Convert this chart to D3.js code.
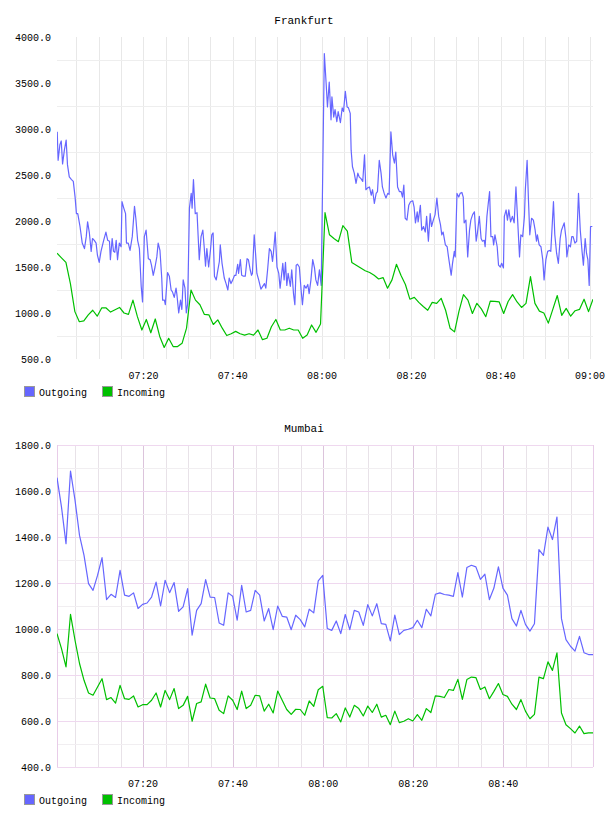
<!DOCTYPE html>
<html>
<head>
<meta charset="utf-8">
<script src="https://cdn.jsdelivr.net/npm/d3@7"></script>
<style>
  body { margin: 0; background: #fff; }
  svg text { font-family: "Liberation Mono", "DejaVu Sans Mono", monospace; font-size: 10px; fill: #000; }
</style>
</head>
<body>
<div id="chart"></div>
<script>
/* series names / colours */
const seriesNames = ["Outgoing", "Incoming"];
const seriesColors = ["#6666ff", "#00c000"];

/* times are minutes after 07:00 */
const fraOutgoing = [
  [0.7,2970],[0.9,2660],[1.3,2830],[1.6,2870],[1.9,2620],[2.3,2770],[2.7,2880],[3.0,2610],[3.4,2480],[3.9,2450],
  [4.3,2430],[4.7,2260],[5.0,2080],[5.3,2080],[5.8,1940],[6.3,1760],[6.8,1700],[7.2,1830],[7.5,1990],[7.9,1870],
  [8.3,1670],[8.6,1810],[9.0,1790],[9.4,1760],[9.7,1630],[10.1,1550],[10.5,1670],[11.1,1790],[11.6,1880],[12.0,1790],
  [12.4,1780],[12.6,1580],[13.0,1810],[13.3,1670],[13.6,1660],[13.9,1790],[14.2,1580],[14.6,1760],[15.0,1720],[15.2,2210],
  [15.6,2140],[16.0,2080],[16.2,1760],[16.6,1760],[17.0,1680],[17.5,1830],[18.0,2160],[18.3,2030],[18.7,1790],[19.1,1700],
  [19.5,1290],[19.8,1120],[20.2,1830],[20.6,1900],[21.1,1590],[21.5,1580],[21.8,1520],[22.2,1410],[22.6,1500],[23.0,1610],
  [23.3,1760],[23.7,1680],[24.1,1380],[24.3,1140],[24.7,1140],[24.9,1090],[25.4,1440],[25.8,1400],[26.2,1250],[26.5,1230],
  [26.9,1170],[27.3,1270],[27.5,1200],[27.9,1000],[28.3,1140],[28.6,1040],[28.9,1360],[29.3,1270],[29.6,1000],[29.9,1100],
  [30.3,2140],[30.7,2300],[30.9,2140],[31.2,2450],[31.6,2080],[32.0,2090],[32.5,1580],[32.9,1830],[33.3,1900],[33.6,1720],
  [33.9,1510],[34.2,1700],[34.6,1500],[35.0,1680],[35.3,1850],[35.6,1870],[35.9,1400],[36.3,1360],[36.6,1450],[37.0,1560],
  [37.2,1740],[37.6,1540],[38.1,1380],[38.5,1320],[38.9,1250],[39.2,1380],[39.6,1320],[40.0,1360],[40.4,1410],
  [40.7,1410],[41.1,1530],[41.3,1430],[41.7,1580],[42.0,1410],[42.4,1400],[42.8,1400],[43.2,1590],[43.5,1580],[43.9,1470],
  [44.2,1410],[44.4,1430],[44.8,1850],[45.1,1650],[45.4,1430],[45.8,1360],[46.3,1260],[46.7,1290],[47.1,1320],[47.4,1270],
  [47.8,1470],[48.2,1700],[48.6,1670],[48.9,1560],[49.1,1650],[49.5,1880],[49.9,1500],[50.3,1430],[50.6,1270],[51.2,1540],
  [51.5,1360],[51.8,1550],[52.1,1300],[52.4,1430],[52.9,1290],[53.2,1470],[53.6,1210],[53.9,1090],[54.2,1520],[54.5,1530],
  [54.9,1500],[55.3,1250],[55.6,1090],[56.0,1300],[56.4,1270],[56.8,1310],[57.1,1210],[57.5,1360],[57.9,1580],[58.3,1490],
  [58.6,1360],[59.0,1300],[59.4,1470],[59.8,1300],[60.5,3820],[60.9,3500],[61.2,3240],[61.6,3510],[62.0,3100],[62.2,3350],
  [62.6,3130],[62.9,3210],[63.3,3080],[63.6,3190],[64.1,3070],[64.5,3230],[64.8,3190],[65.2,3410],[65.6,3240],[65.9,3230],
  [66.3,3170],[66.5,2770],[66.8,2590],[67.2,2520],[67.6,2410],[68.0,2520],[68.3,2480],[68.7,2460],[69.1,2430],[69.5,2720],
  [69.8,2340],[70.2,2360],[70.6,2370],[71.0,2280],[71.3,2340],[71.7,2190],[72.1,2300],[72.4,2320],[72.8,2660],[73.2,2520],
  [73.5,2370],[73.9,2300],[74.3,2250],[74.7,2300],[75.0,2290],[75.4,2970],[75.8,2720],[76.2,2630],[76.5,2750],[76.9,2370],
  [77.3,2320],[77.7,2320],[78.0,2260],[78.3,2390],[78.6,2030],[79.0,2010],[79.4,2170],[79.8,2210],[80.3,2220],[80.6,2150],
  [80.9,1980],[81.3,2100],[81.5,1990],[82.0,2170],[82.3,1900],[82.7,1940],[83.1,1880],[83.4,2050],[83.8,1780],[84.2,2080],
  [84.5,1940],[84.9,2010],[85.3,2070],[85.7,2250],[86.1,2050],[86.5,1960],[86.8,1850],[87.1,1880],[87.6,1740],[88.0,1720],
  [88.3,1610],[88.9,1410],[89.2,1540],[89.6,1670],[89.8,1610],[90.2,2300],[90.6,2260],[90.9,2300],[91.3,2310],[91.6,2260],
  [91.8,1980],[92.2,2010],[92.6,1610],[93.0,1900],[93.3,2010],[93.7,2070],[94.1,2100],[94.5,1780],[94.8,1880],[95.2,2050],
  [95.6,1810],[95.9,1780],[96.3,1790],[96.5,1720],[96.9,2050],[97.2,2190],[97.5,2320],[97.8,1830],[98.2,1830],[98.4,1740],
  [98.7,1850],[99.2,1720],[99.5,1520],[99.9,1500],[100.2,1540],[100.6,1490],[100.8,2050],[101.2,2120],[101.5,2010],[101.8,2120],
  [102.2,1990],[102.6,2050],[103.0,1980],[103.4,2370],[103.8,1990],[104.2,1610],[104.5,1850],[104.9,1830],[105.3,2050],[105.5,2340],
  [105.9,2660],[106.2,2230],[106.5,1850],[106.9,2030],[107.3,2010],[107.7,1900],[108.0,1780],[108.2,1850],[108.6,1740],[109.0,1720],
  [109.4,1580],[109.7,1360],[110.1,1580],[110.5,1670],[110.9,1680],[111.2,1670],[111.8,2210],[112.1,1850],[112.5,1650],[112.9,1540],
  [113.3,1810],[113.6,1900],[114.2,1980],[114.6,1810],[114.8,1610],[115.2,1740],[115.6,1720],[115.9,1830],[116.2,1830],[116.6,1760],
  [117.0,1780],[117.4,2300],[117.8,1900],[118.2,1670],[118.5,1520],[118.9,1810],[119.2,1650],[119.5,1580],[119.8,1300],[120.1,1940],
  [120.5,1940]
];

/* one sample a minute */
const fraIncomingStart = 0.65;
const fraIncoming = [
  1650,1600,1550,1320,1015,905,915,980,1030,965,
  1055,1055,1010,1035,1060,1000,985,1140,960,815,
  930,785,935,745,625,725,635,635,670,835,
  1250,1140,1090,985,980,875,925,835,755,775,
  800,775,760,775,760,815,710,725,850,930,
  815,815,835,815,815,725,760,870,790,880,
  2090,1850,1810,1775,1950,1890,1550,1520,1490,1460,
  1440,1410,1370,1385,1270,1360,1530,1410,1310,1150,
  1170,1115,1070,1030,1115,1105,1160,1030,835,795,
  1020,1200,1140,995,1105,1045,960,1130,1127,1120,
  995,1125,1200,1120,1060,1105,1395,1105,1020,1000,
  890,1040,1190,975,1050,965,1025,1040,1150,1015,
  1150
];

const mumStart = 0.9;
const mumOutgoing = [
  1658,1530,1371,1687,1560,1407,1320,1197,1168,1233,
  1310,1128,1151,1137,1255,1147,1142,1157,1089,1107,
  1113,1139,1204,1100,1212,1158,1202,1077,1096,1176,
  973,1081,1110,1215,1139,1137,1026,1016,1157,1142,
  1038,1190,1074,1081,1168,1147,1035,1089,997,1100,
  1055,1052,997,1060,1041,1009,1086,1070,1209,1233,
  1002,994,1035,980,1063,997,1081,1074,1016,1106,
  1057,1110,1023,1020,948,1060,976,994,999,1006,
  1038,1006,1086,1057,1151,1157,1150,1147,1142,1245,
  1139,1267,1277,1270,1216,1238,1128,1178,1270,1178,
  1147,1045,1013,1081,1020,991,1023,1345,1320,1443,
  1389,1487,1045,954,925,904,968,897,889,889
];
const mumIncoming = [
  980,915,835,1064,951,850,777,722,712,748,
  784,693,702,678,755,697,694,709,661,671,
  671,690,722,661,733,693,741,654,668,707,
  599,676,683,760,700,697,647,632,709,690,
  650,730,654,668,712,709,643,673,635,730,
  690,650,629,651,650,625,687,664,736,751,
  615,613,632,596,657,617,668,654,622,665,
  637,673,617,625,584,643,593,599,610,600,
  628,603,654,637,709,707,702,737,733,781,
  694,780,791,789,737,748,697,729,763,715,
  707,673,650,693,643,610,629,791,784,857,
  820,896,635,584,567,548,578,545,548,548
];

const fraYTicks = [500, 1000, 1500, 2000, 2500, 3000, 3500, 4000];
const mumYTicks = [400, 600, 800, 1000, 1200, 1400, 1600, 1800];

const width = 608, height = 816;
const plotLeft = 57, plotRight = 593, plotH = 322;
const base = Date.UTC(2013, 0, 1, 7, 0);
const toDate = m => new Date(base + m * 60000);

const svg = d3.select("#chart").append("svg")
  .attr("width", width).attr("height", height);

function drawChart(cfg) {
  const g = svg.append("g").attr("transform", `translate(0,${cfg.top})`);

  // minutes -> Date
  const series = cfg.series.map(s => s.map(d => [toDate(d[0]), d[1]]));
  const x = d3.scaleUtc()
    .domain(d3.extent(series.flat(), d => d[0]))
    .range([plotLeft, plotRight]);
  const y = d3.scaleLinear().domain(d3.extent(cfg.yTicks)).range([plotH, 0]);

  /* title */
  svg.append("text")
    .attr("x", width / 2).attr("y", cfg.top - 17)
    .attr("text-anchor", "middle").attr("dy", "0.35em")
    .style("font-size", "11px")
    .text(cfg.title);

  /* grid */
  const grid = g.append("g").attr("shape-rendering", "crispEdges");
  const fine = x.ticks(d3.utcMinute.every(5));
  const coarse = x.ticks(d3.utcMinute.every(20)).map(d => +d);
  grid.selectAll(".vg").data(fine).enter().append("line")
    .attr("x1", d => Math.round(x(d)) + 0.5).attr("x2", d => Math.round(x(d)) + 0.5)
    .attr("y1", 0).attr("y2", plotH)
    .attr("stroke", d => cfg.pink && coarse.includes(+d) ? "#dcc4dc" : cfg.vGrid);
  grid.selectAll(".hg").data(cfg.hMinor).enter().append("line")
    .attr("x1", plotLeft).attr("x2", plotRight)
    .attr("y1", d => Math.round(y(d)) + 0.5).attr("y2", d => Math.round(y(d)) + 0.5)
    .attr("stroke", cfg.hGrid);
  if (cfg.pink) {
    grid.selectAll(".hm").data(cfg.yTicks).enter().append("line")
      .attr("x1", plotLeft).attr("x2", plotRight)
      .attr("y1", d => Math.round(y(d)) + 0.5).attr("y2", d => Math.round(y(d)) + 0.5)
      .attr("stroke", "#efd8ef");
    grid.selectAll(".vb").data([plotLeft, plotRight]).enter().append("line")
      .attr("x1", d => d + 0.5).attr("x2", d => d + 0.5)
      .attr("y1", 0).attr("y2", plotH)
      .attr("stroke", "#e8cce8");
  }

  /* y labels */
  g.selectAll(".yl").data(cfg.yTicks).enter().append("text")
    .attr("x", 51).attr("y", d => y(d)).attr("dy", "0.35em")
    .attr("text-anchor", "end")
    .text(d => d3.format(".1f")(d));

  /* x labels */
  g.selectAll(".xl").data(x.ticks(d3.utcMinute.every(20))).enter().append("text")
    .attr("x", d => x(d)).attr("y", plotH + 16).attr("dy", "0.35em")
    .attr("text-anchor", "middle")
    .text(d => d3.utcFormat("%H:%M")(d));

  /* lines */
  const clipId = "clip" + cfg.top;
  g.append("clipPath").attr("id", clipId).append("rect")
    .attr("x", plotLeft).attr("y", 0).attr("width", plotRight - plotLeft).attr("height", plotH);
  const line = d3.line().x(d => x(d[0])).y(d => y(d[1]));
  g.append("g").attr("clip-path", `url(#${clipId})`)
    .selectAll("path").data(series).enter().append("path")
    .attr("d", line)
    .attr("fill", "none")
    .attr("stroke", (d, i) => seriesColors[i])
    .attr("stroke-width", 1.2)
    .attr("stroke-linejoin", "round");

  /* legend */
  const leg = g.append("g").attr("transform", `translate(0,${plotH + 33})`);
  const items = leg.selectAll("g").data(seriesNames).enter().append("g")
    .attr("transform", (d, i) => `translate(${24 + i * 78},0)`);
  items.append("rect")
    .attr("x", 0.5).attr("y", -5.5).attr("width", 10).attr("height", 10)
    .attr("fill", (d, i) => seriesColors[i])
    .attr("stroke", "#999");
  items.append("text").attr("x", 15).attr("dy", "0.35em").text(d => d);
}

drawChart({
  title: "Frankfurt", top: 37,
  series: [fraOutgoing, fraIncoming.map((v, i) => [fraIncomingStart + i, v])],
  yTicks: fraYTicks,
  hMinor: d3.range(750, 4000, 500),
  vGrid: "#e8e8e8", hGrid: "#eeeeee", pink: false
});

drawChart({
  title: "Mumbai", top: 445,
  series: [mumOutgoing.map((v, i) => [mumStart + i, v]), mumIncoming.map((v, i) => [mumStart + i, v])],
  yTicks: mumYTicks,
  hMinor: d3.range(500, 1800, 200),
  vGrid: "#e8e2e8", hGrid: "#f1eef1", pink: true
});
</script>
</body>
</html>
